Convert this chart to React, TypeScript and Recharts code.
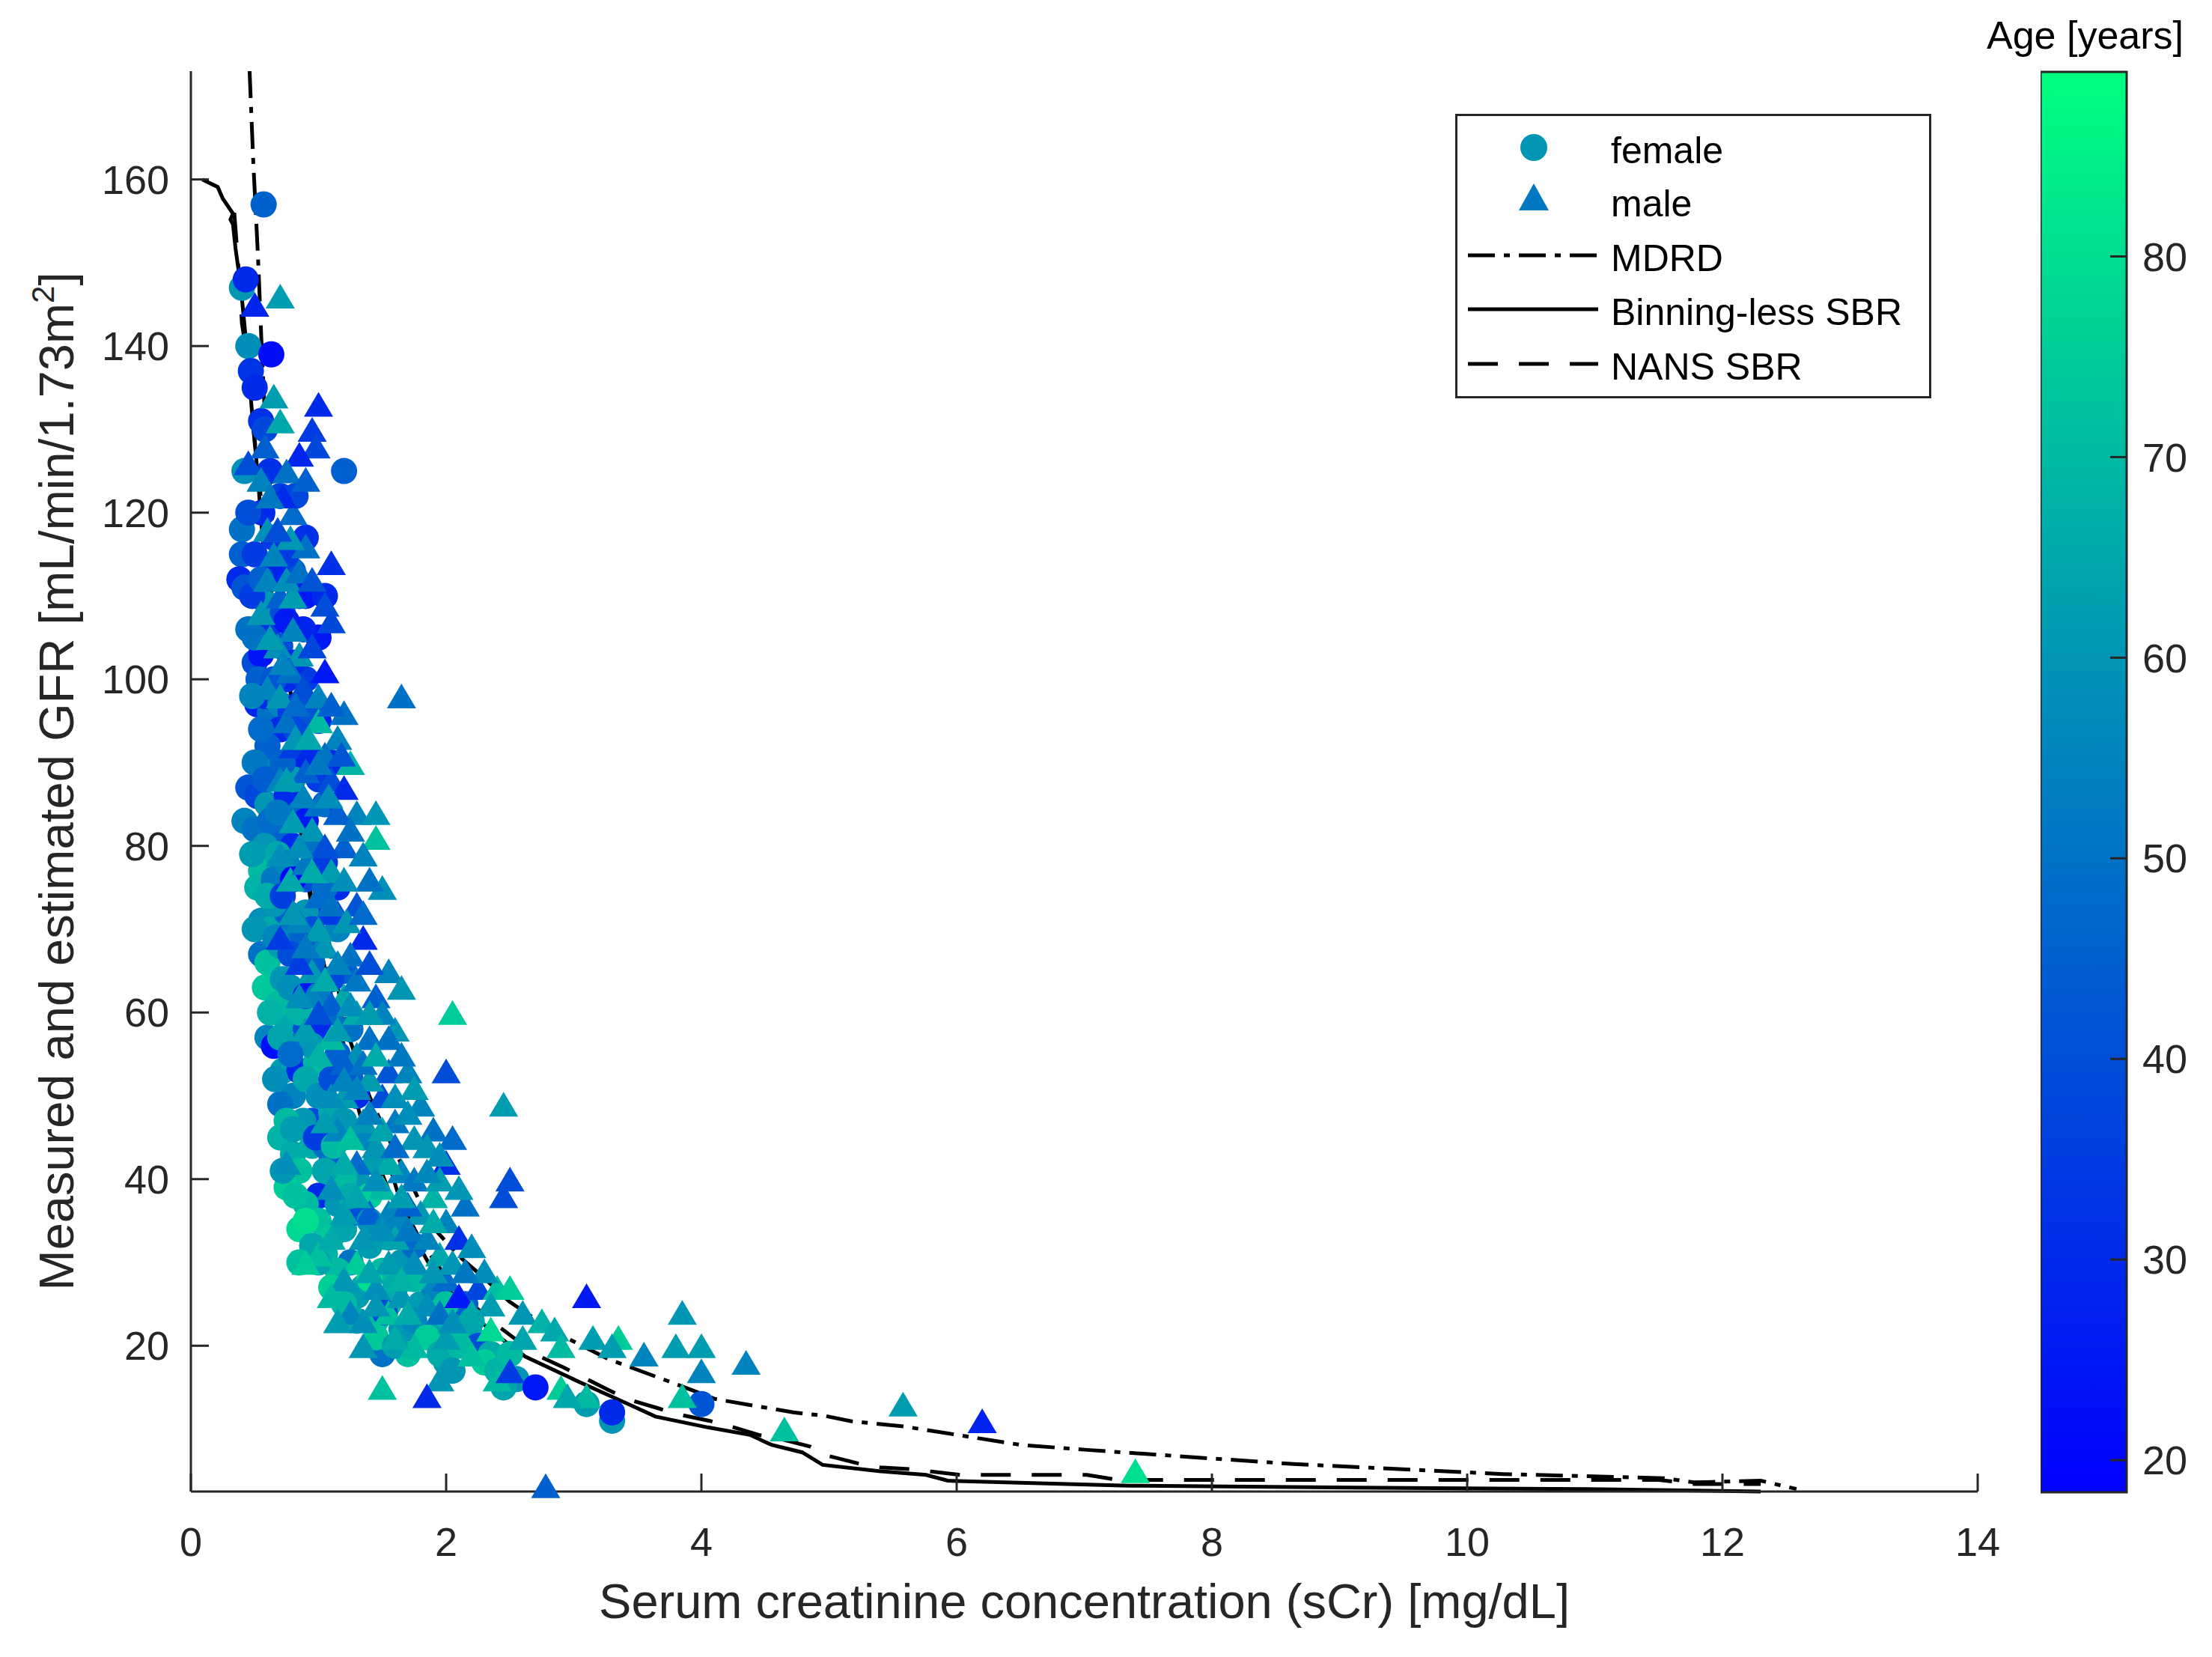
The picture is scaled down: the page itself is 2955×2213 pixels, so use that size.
import {
  Bar,
  BarChart,
  ComposedChart,
  Legend,
  Line,
  Scatter,
  XAxis,
  YAxis,
} from "recharts";

const FONT = "'Liberation Sans', Arial, Helvetica, sans-serif";
const INK = "#262626";

const AGE_MIN = 18.4;
const AGE_MAX = 89.2;

const xTicks = [0, 2, 4, 6, 8, 10, 12, 14];
const yTicks = [20, 40, 60, 80, 100, 120, 140, 160];
const ageTicks = [20, 30, 40, 50, 60, 70, 80];

// [sCr mg/dL, GFR, age]
const female: [number, number, number][] = [
  [0.57, 157, 46], [0.4, 147, 60], [0.43, 148, 30], [0.45, 140, 58], [0.63, 139, 22],
  [0.47, 137, 33], [0.5, 135, 30], [0.55, 131, 32], [0.58, 130, 38], [0.42, 125, 58],
  [1.2, 125, 45], [0.62, 125, 32], [0.7, 122, 36], [0.82, 122, 38], [0.56, 120, 30],
  [0.4, 118, 50], [0.4, 115, 45], [0.38, 112, 30], [0.42, 111, 42], [0.85, 110, 35],
  [0.8, 113, 40], [0.66, 113, 28], [0.9, 110, 25], [0.6, 106, 34], [0.7, 104, 40],
  [0.5, 102, 40], [0.55, 103, 24], [0.53, 100, 45], [0.75, 100, 30], [0.52, 97, 28],
  [0.62, 96, 50], [0.7, 94, 30], [0.85, 92, 40], [0.65, 90, 55], [0.9, 90, 28],
  [1.0, 88, 35], [0.45, 87, 42], [0.52, 86, 38], [0.6, 85, 60], [0.42, 83, 55],
  [0.5, 82, 50], [0.7, 82, 45], [0.58, 80, 60], [0.8, 80, 30], [0.55, 77, 70],
  [0.52, 75, 68], [0.65, 76, 52], [0.9, 76, 40], [0.55, 71, 58], [0.62, 70, 65],
  [0.75, 72, 45], [1.0, 72, 35], [0.55, 67, 50], [0.6, 66, 72], [0.85, 67, 48],
  [0.58, 63, 74], [0.72, 64, 60], [0.95, 63, 30], [0.6, 57, 55], [0.65, 56, 22],
  [0.75, 59, 65], [0.9, 58, 40], [1.05, 60, 55], [0.72, 53, 62], [0.85, 53, 30],
  [0.98, 54, 70], [1.15, 55, 45], [0.8, 50, 55], [0.7, 49, 50], [0.95, 47, 38],
  [1.1, 48, 65], [0.7, 45, 68], [0.8, 43, 66], [0.85, 41, 72], [1.1, 40, 88],
  [1.0, 38, 30], [1.1, 42, 44], [0.9, 37, 70], [1.0, 35, 72], [1.1, 33, 74],
  [1.2, 34, 64], [1.05, 31, 68], [1.25, 30, 50], [1.3, 36, 40], [1.4, 32, 62],
  [1.5, 29, 70], [1.35, 27, 66], [1.55, 25, 72], [1.45, 23, 70], [1.52, 24, 40],
  [1.7, 21, 58], [1.5, 19, 50], [1.7, 19, 72], [1.8, 25, 62], [1.9, 27, 55],
  [2.0, 22, 70], [2.1, 23, 60], [2.2, 21, 68], [2.25, 20, 40], [2.35, 19, 66],
  [2.3, 18, 75], [2.4, 17, 68], [2.55, 16, 60], [2.7, 15, 25], [3.1, 13, 62],
  [3.3, 11, 60], [3.3, 12, 30], [4.0, 13, 42], [1.65, 30, 60], [1.75, 32, 48],
  [1.2, 45, 55], [1.3, 40, 60], [1.25, 52, 45], [1.1, 60, 50], [1.2, 65, 45],
  [1.0, 68, 55], [0.95, 80, 50], [1.05, 85, 40], [1.1, 90, 30], [1.0, 95, 28],
  [0.9, 100, 35], [1.0, 105, 25], [1.05, 110, 30], [0.75, 115, 35], [0.9, 117, 32],
  [0.6, 109, 60], [0.48, 110, 35], [0.5, 105, 50], [0.58, 98, 30], [0.65, 100, 42],
  [0.7, 97, 55], [0.78, 96, 35], [0.6, 92, 45], [0.68, 88, 40], [0.75, 86, 30],
  [0.8, 88, 62], [0.62, 83, 48], [0.68, 79, 65], [0.75, 78, 55], [0.85, 84, 45],
  [0.65, 73, 60], [0.7, 68, 62], [0.8, 70, 50], [0.9, 72, 60], [0.68, 61, 70],
  [0.78, 63, 58], [0.85, 60, 68], [0.95, 66, 45], [0.8, 56, 52], [0.9, 52, 65],
  [1.0, 50, 58], [0.88, 47, 60], [0.95, 44, 66], [1.05, 44, 50], [0.75, 39, 75],
  [0.85, 34, 78], [0.95, 32, 65], [1.15, 37, 60], [1.2, 40, 70], [1.15, 29, 70],
  [1.3, 26, 62], [1.4, 28, 80], [1.6, 27, 66], [1.65, 22, 60], [1.9, 21, 64],
  [2.0, 18, 62], [2.15, 25, 45], [1.25, 58, 50], [1.1, 52, 40], [1.35, 45, 55],
  [1.45, 42, 62], [1.0, 58, 30], [1.05, 78, 35], [0.9, 83, 25], [0.95, 70, 40],
  [1.15, 75, 30], [1.1, 64, 38], [0.88, 106, 28], [0.72, 108, 40], [0.65, 117, 35],
  [0.85, 97, 22], [0.8, 76, 20], [1.3, 50, 30], [0.9, 62, 25],
  [0.45, 120, 40], [0.5, 115, 35], [0.55, 112, 45], [0.45, 106, 50], [0.48, 98, 55],
  [0.55, 94, 48], [0.5, 90, 52], [0.58, 88, 44], [0.48, 79, 62], [0.6, 74, 66],
  [0.5, 70, 60], [0.66, 69, 56], [0.62, 60, 68], [0.7, 57, 64], [0.66, 52, 58],
  [0.75, 47, 70], [0.8, 46, 62], [0.72, 41, 60], [0.82, 38, 72], [0.9, 35, 80],
  [1.0, 30, 64], [1.1, 27, 76], [1.2, 25, 70], [1.3, 23, 66], [1.45, 21, 74],
  [1.6, 20, 62], [1.75, 23, 56], [1.85, 21, 75], [1.95, 19, 66], [2.1, 20, 70],
  [2.45, 15, 64], [2.05, 17, 60], [1.25, 38, 66], [1.4, 35, 58], [1.55, 33, 62],
  [1.05, 41, 64], [0.95, 56, 60], [1.0, 62, 52], [0.88, 69, 46], [0.78, 67, 40],
  [0.72, 74, 36], [0.68, 84, 52], [0.72, 90, 46], [0.82, 94, 38], [0.8, 102, 30],
  [0.75, 107, 26], [0.95, 96, 42], [1.05, 75, 48], [1.15, 70, 55], [1.2, 47, 60],
  [1.4, 38, 76], [1.6, 35, 55], [1.75, 28, 70], [2.0, 25, 72], [2.2, 23, 64],
  [2.5, 19, 70], [0.85, 30, 72], [0.78, 55, 48], [0.98, 45, 35], [1.12, 44, 70],
];

const male: [number, number, number][] = [
  [0.7, 146, 62], [0.5, 145, 28], [0.65, 134, 62], [1.0, 133, 30], [0.7, 131, 65],
  [0.95, 130, 35], [0.98, 128, 38], [0.85, 127, 28], [0.45, 126, 40], [0.75, 125, 50],
  [0.55, 124, 55], [0.8, 120, 48], [0.6, 118, 58], [0.9, 116, 50], [1.1, 114, 32],
  [0.6, 112, 55], [0.7, 110, 45], [1.05, 109, 40], [0.55, 108, 60], [1.1, 107, 38],
  [0.8, 106, 55], [0.85, 103, 60], [0.95, 104, 38], [1.05, 101, 25], [0.6, 99, 55],
  [0.7, 98, 60], [0.9, 97, 42], [1.2, 96, 50], [1.65, 98, 50], [0.75, 95, 50],
  [1.0, 95, 70], [1.15, 93, 55], [1.25, 90, 68], [0.8, 92, 35], [0.9, 89, 45],
  [1.1, 88, 40], [1.2, 87, 30], [1.3, 84, 55], [1.45, 84, 60], [1.0, 85, 50],
  [1.45, 81, 72], [0.8, 83, 62], [1.2, 80, 45], [1.35, 79, 55], [0.7, 79, 58],
  [1.5, 75, 58], [1.1, 77, 62], [1.4, 76, 50], [1.3, 73, 42], [1.0, 74, 48],
  [0.85, 71, 55], [1.15, 72, 35], [1.35, 69, 30], [1.05, 68, 60], [1.25, 67, 50],
  [0.7, 69, 35], [1.55, 65, 55], [1.65, 63, 60], [1.45, 62, 45], [2.05, 60, 75],
  [1.2, 62, 65], [0.95, 62, 55], [1.6, 58, 60], [1.4, 57, 50], [1.1, 57, 70],
  [1.3, 55, 58], [1.55, 53, 42], [1.7, 53, 55], [2.0, 53, 40], [1.5, 50, 40],
  [1.8, 49, 55], [2.45, 49, 62], [1.2, 50, 62], [1.35, 47, 60], [1.6, 47, 52],
  [2.05, 45, 48], [1.9, 46, 50], [1.75, 45, 60], [1.15, 46, 55], [1.45, 44, 60],
  [2.0, 42, 32], [0.75, 42, 58], [1.3, 42, 48], [1.65, 41, 55], [2.5, 40, 40],
  [2.45, 38, 40], [1.9, 38, 68], [1.5, 39, 70], [1.1, 39, 58], [1.8, 36, 60],
  [1.4, 36, 45], [2.0, 35, 55], [2.1, 33, 32], [1.0, 31, 72], [1.3, 30, 75],
  [1.6, 33, 64], [1.75, 30, 58], [1.95, 31, 65], [1.2, 28, 60], [1.45, 27, 58],
  [2.0, 28, 48], [2.25, 27, 38], [1.25, 24, 55], [1.55, 24, 72], [1.85, 25, 58],
  [2.1, 26, 25], [2.4, 27, 72], [2.5, 27, 75], [2.6, 24, 60], [2.75, 23, 68],
  [2.85, 22, 65], [1.35, 20, 60], [1.75, 20, 70], [2.0, 21, 62], [2.35, 22, 78],
  [2.9, 20, 70], [3.15, 21, 62], [3.35, 21, 75], [3.1, 26, 25], [3.85, 24, 60],
  [3.8, 20, 62], [4.0, 20, 62], [3.55, 19, 55], [4.0, 17, 55], [4.35, 18, 55],
  [3.85, 14, 72], [3.3, 20, 62], [2.4, 16, 70], [1.5, 15, 72], [1.95, 16, 60],
  [1.85, 14, 30], [2.5, 17, 35], [2.9, 15, 75], [3.1, 14, 70], [2.95, 14, 65],
  [4.65, 10, 72], [5.58, 13, 62], [6.2, 11, 28], [7.4, 5, 80], [2.78, 3.2, 45],
  [0.72, 122, 30], [0.78, 117, 60], [0.65, 115, 55], [0.68, 104, 58], [0.78, 101, 50],
  [0.88, 99, 40], [1.0, 98, 55], [1.1, 97, 45], [0.82, 93, 60], [0.95, 92, 30],
  [1.05, 91, 50], [1.15, 84, 45], [0.88, 86, 55], [0.95, 82, 60], [1.05, 80, 40],
  [1.25, 82, 50], [0.78, 76, 65], [0.9, 78, 52], [1.2, 76, 58], [1.0, 70, 62],
  [1.15, 66, 55], [1.3, 64, 52], [1.4, 66, 40], [0.95, 65, 60], [1.1, 61, 45],
  [1.3, 60, 66], [1.5, 60, 55], [0.9, 58, 62], [1.0, 55, 68], [1.2, 54, 45],
  [1.4, 52, 62], [1.65, 55, 52], [1.1, 50, 58], [1.3, 51, 55], [1.5, 46, 64],
  [1.7, 48, 58], [1.85, 44, 60], [1.25, 45, 72], [1.55, 42, 66], [1.75, 40, 52],
  [1.95, 40, 62], [1.2, 36, 62], [1.55, 36, 55], [1.7, 37, 45], [1.35, 33, 60],
  [1.85, 33, 55], [2.05, 30, 60], [1.55, 30, 62], [1.1, 26, 70], [1.35, 23, 58],
  [1.65, 26, 60], [2.2, 24, 65], [2.3, 29, 58], [1.95, 24, 50], [0.9, 30, 75],
  [2.15, 37, 50], [0.85, 66, 35], [0.7, 88, 55], [0.8, 110, 62], [0.9, 124, 45],
  [0.58, 128, 45], [0.62, 122, 52], [0.68, 118, 40], [0.75, 112, 58], [0.85, 113, 50],
  [0.95, 112, 42], [0.62, 105, 62], [0.72, 102, 55], [0.82, 97, 48], [0.92, 93, 65],
  [1.0, 90, 52], [1.08, 86, 58], [1.18, 91, 42], [0.75, 88, 62], [0.85, 80, 58],
  [0.95, 77, 66], [1.1, 73, 50], [1.22, 71, 60], [1.35, 72, 48], [0.8, 72, 60],
  [0.9, 68, 52], [1.05, 64, 66], [1.25, 61, 58], [1.4, 60, 62], [1.55, 57, 50],
  [0.85, 62, 58], [1.0, 60, 40], [1.15, 58, 62], [1.35, 54, 50], [1.45, 55, 66],
  [1.2, 52, 55], [1.6, 50, 58], [1.75, 51, 62], [1.05, 47, 62], [1.4, 48, 54],
  [1.6, 44, 48], [1.95, 43, 58], [1.2, 42, 66], [1.45, 40, 58], [1.65, 38, 62],
  [1.85, 41, 56], [2.1, 39, 60], [1.3, 38, 64], [1.5, 34, 58], [1.7, 34, 52],
  [1.9, 35, 66], [2.2, 32, 58], [1.1, 33, 66], [1.4, 29, 64], [1.65, 28, 68],
  [1.9, 29, 60], [2.15, 29, 52], [2.35, 25, 62], [1.15, 23, 62], [1.45, 25, 60],
  [1.7, 24, 66], [2.05, 23, 58], [2.6, 21, 64], [2.2, 19, 72], [1.6, 21, 66],
];

// [sCr, GFR]
const mdrd: [number, number][] = [
  [0.46, 173], [0.49, 161.7], [0.51, 155.7], [0.53, 149.3], [0.556, 139.3],
  [0.584, 130.4], [0.62, 123.2], [0.66, 113.6], [0.734, 105.5], [0.775, 99.3],
  [0.816, 93.1], [0.857, 88], [0.918, 81.8], [0.98, 75.6], [1.063, 69.4],
  [1.145, 63.4], [1.23, 57.4], [1.4, 49.9], [1.57, 44.2], [1.715, 39.8],
  [1.886, 34.4], [2.105, 30.7], [2.3, 28.1], [2.495, 25.3], [2.835, 21.8],
  [3.27, 18.4], [3.73, 15.8], [4.11, 13.6], [4.72, 12.0], [4.96, 11.6],
  [5.17, 10.95], [5.59, 10.3], [6.5, 8.1], [7.02, 7.5], [7.3, 7.2],
  [8.64, 5.8], [10.28, 4.6], [11.54, 4.1], [11.78, 3.6], [12.3, 3.8], [12.58, 2.8],
];

const binningLess: [number, number][] = [
  [0.09, 160.0], [0.21, 159.1], [0.25, 157.7], [0.33, 155.9], [0.31, 155.2],
  [0.33, 154.6], [0.35, 151.7], [0.39, 147.3], [0.44, 139.3], [0.49, 130.0],
  [0.52, 125.2], [0.56, 117.2], [0.6, 111.5], [0.67, 105.5], [0.73, 96.9],
  [0.8, 88.0], [0.88, 79.7], [0.96, 71.1], [1.04, 66.0], [1.12, 60.2],
  [1.16, 56.8], [1.35, 46.4], [1.57, 37.9], [1.86, 30.0], [2.08, 25.6],
  [2.35, 21.8], [2.62, 18.7], [3.05, 15.6], [3.44, 12.9], [3.64, 11.5],
  [4.05, 10.2], [4.38, 9.3], [4.55, 8.1], [4.79, 7.2], [4.95, 5.7],
  [5.39, 4.95], [5.76, 4.5], [5.93, 3.8], [7.35, 3.2], [9.74, 2.9],
  [10.94, 2.8], [12.3, 2.5],
];

const nansSbr: [number, number][] = [
  [0.34, 156], [0.37, 150], [0.4, 142.7], [0.435, 139.3], [0.44, 136.5],
  [0.47, 132.8], [0.52, 126], [0.58, 117], [0.64, 109], [0.7, 101],
  [0.77, 92], [0.85, 83], [0.93, 75], [1.02, 68], [1.1, 62], [1.2, 56],
  [1.35, 48.5], [1.47, 44.4], [1.57, 40.9], [1.63, 37.9], [1.74, 34.4],
  [1.81, 32.3], [1.96, 29.1], [2.05, 27.2], [2.24, 24.5], [2.36, 22.9],
  [2.56, 20.6], [2.68, 19.1], [2.92, 17.4], [3.05, 16.4], [3.27, 14.7],
  [3.42, 13.6], [3.66, 12.5], [3.81, 11.8], [4.06, 11.0], [4.21, 10.4],
  [4.45, 9.3], [4.62, 8.8], [4.85, 7.9], [4.99, 6.8], [5.22, 5.9],
  [5.4, 5.4], [5.63, 5.2], [5.8, 4.9], [6.03, 4.5], [7.02, 4.5],
  [7.26, 3.9], [11.5, 3.9], [11.78, 3.4], [12.3, 3.4],
];

// MATLAB "winter" colormap over the age range
function ageColor(age: number) {
  const t = Math.min(1, Math.max(0, (age - AGE_MIN) / (AGE_MAX - AGE_MIN)));
  return `rgb(0,${Math.round(255 * t)},${Math.round(255 * (1 - 0.5 * t))})`;
}

const toPoints = (rows: [number, number, number][]) =>
  rows.map(([x, y, age]) => ({ x, y, age }));
const toLine = (rows: [number, number][]) => rows.map(([x, y]) => ({ x, y }));

const Circle = (p: any) => (
  <circle cx={p.cx} cy={p.cy} r={17.5} fill={ageColor(p.payload.age)} />
);

const Triangle = (p: any) => (
  <polygon
    points={`${p.cx},${p.cy - 16.5} ${p.cx - 19.5},${p.cy + 16.5} ${p.cx + 19.5},${p.cy + 16.5}`}
    fill={ageColor(p.payload.age)}
  />
);

const LINE_W = 5;
const MDRD_DASH = "36 12 8 12";
const NANS_DASH = "40 28";

function LegendBox() {
  const text = { fontSize: 50, fontFamily: FONT, fill: "#000" };
  return (
    <svg width={636} height={380} style={{ display: "block" }}>
      <rect x={1.5} y={1.5} width={633} height={377} fill="#fff" stroke={INK} strokeWidth={3} />
      <circle cx={105} cy={45} r={18} fill={ageColor(60)} />
      <text x={208} y={66} {...text}>female</text>
      <polygon points="105,93 85,129 125,129" fill={ageColor(52)} />
      <text x={208} y={137} {...text}>male</text>
      <line x1={17} x2={191} y1={189} y2={189} stroke="#000" strokeWidth={LINE_W} strokeDasharray={MDRD_DASH} />
      <text x={208} y={210} {...text}>MDRD</text>
      <line x1={17} x2={191} y1={261} y2={261} stroke="#000" strokeWidth={LINE_W} />
      <text x={208} y={282} {...text}>Binning-less SBR</text>
      <line x1={17} x2={191} y1={334} y2={334} stroke="#000" strokeWidth={LINE_W} strokeDasharray={NANS_DASH} />
      <text x={208} y={355} {...text}>NANS SBR</text>
    </svg>
  );
}

const tickStyle = { fontSize: 54, fill: INK, fontFamily: FONT };
const axisStroke = { stroke: INK, strokeWidth: 3 };

export default function App() {
  return (
    <div style={{ position: "relative", width: 2955, height: 2213, background: "#fff", fontFamily: FONT }}>
      <style>{`body{margin:0}`}</style>
      <ComposedChart
        width={2955}
        height={2213}
        margin={{ top: 95, right: 313, bottom: 101, left: 55 }}
        style={{ position: "absolute", left: 0, top: 0 }}
      >
        <XAxis
          type="number"
          dataKey="x"
          domain={[0, 14]}
          ticks={xTicks}
          interval={0}
          height={120}
          tickSize={-24}
          tickMargin={72}
          tick={tickStyle}
          axisLine={axisStroke}
          tickLine={axisStroke}
          label={({ viewBox }: any) => (
            <text
              x={viewBox.x + viewBox.width / 2}
              y={viewBox.y + 169}
              textAnchor="middle"
              fontSize={65}
              fontFamily={FONT}
              fill={INK}
            >
              Serum creatinine concentration (sCr) [mg/dL]
            </text>
          )}
        />
        <YAxis
          type="number"
          dataKey="y"
          domain={[2.5, 173]}
          ticks={yTicks}
          interval={0}
          width={200}
          tickSize={-24}
          tickMargin={53}
          tick={tickStyle}
          axisLine={axisStroke}
          tickLine={axisStroke}
          label={({ viewBox }: any) => {
            const x = viewBox.x + 43;
            const y = viewBox.y + viewBox.height / 2;
            return (
              <text
                x={x}
                y={y}
                transform={`rotate(-90 ${x} ${y})`}
                textAnchor="middle"
                fontSize={65}
                fontFamily={FONT}
                fill={INK}
              >
                Measured and estimated GFR [mL/min/1.73m
                <tspan fontSize={42} dy={-26}>2</tspan>
                <tspan dy={26}>]</tspan>
              </text>
            );
          }}
        />
        <Scatter name="female" data={toPoints(female)} dataKey="y" shape={Circle} isAnimationActive={false} />
        <Scatter name="male" data={toPoints(male)} dataKey="y" shape={Triangle} isAnimationActive={false} />
        <Line
          name="MDRD"
          data={toLine(mdrd)}
          dataKey="y"
          type="linear"
          stroke="#000"
          strokeWidth={LINE_W}
          strokeDasharray={MDRD_DASH}
          dot={false}
          activeDot={false}
          isAnimationActive={false}
        />
        <Line
          name="Binning-less SBR"
          data={toLine(binningLess)}
          dataKey="y"
          type="linear"
          stroke="#000"
          strokeWidth={LINE_W}
          dot={false}
          activeDot={false}
          isAnimationActive={false}
        />
        <Line
          name="NANS SBR"
          data={toLine(nansSbr)}
          dataKey="y"
          type="linear"
          stroke="#000"
          strokeWidth={LINE_W}
          strokeDasharray={NANS_DASH}
          dot={false}
          activeDot={false}
          isAnimationActive={false}
        />
        <Legend
          layout="vertical"
          align="center"
          verticalAlign="middle"
          wrapperStyle={{ left: 1944, top: 152, width: 636, height: 380 }}
          content={() => <LegendBox />}
        />
      </ComposedChart>

      <BarChart
        width={229}
        height={2213}
        data={[{ name: "age", range: [AGE_MIN, AGE_MAX] }]}
        margin={{ top: 96, right: 14, bottom: 220, left: 0 }}
        barCategoryGap={0}
        style={{ position: "absolute", left: 2726, top: 0 }}
      >
        <defs>
          <linearGradient id="winter" x1="0" y1="1" x2="0" y2="0">
            <stop offset="0%" stopColor={ageColor(AGE_MIN)} />
            <stop offset="100%" stopColor={ageColor(AGE_MAX)} />
          </linearGradient>
        </defs>
        <XAxis dataKey="name" hide />
        <YAxis
          orientation="right"
          type="number"
          domain={[AGE_MIN, AGE_MAX]}
          ticks={ageTicks}
          interval={0}
          width={100}
          tickSize={-22}
          tickMargin={43}
          tick={tickStyle}
          axisLine={false}
          tickLine={axisStroke}
        />
        <Bar dataKey="range" fill="url(#winter)" stroke={INK} strokeWidth={3} isAnimationActive={false} />
      </BarChart>

      <div
        style={{
          position: "absolute",
          left: 2654,
          top: 21,
          width: 261,
          textAlign: "center",
          fontSize: 52,
          lineHeight: "52px",
          whiteSpace: "nowrap",
          color: "#000",
        }}
      >
        Age [years]
      </div>
    </div>
  );
}
